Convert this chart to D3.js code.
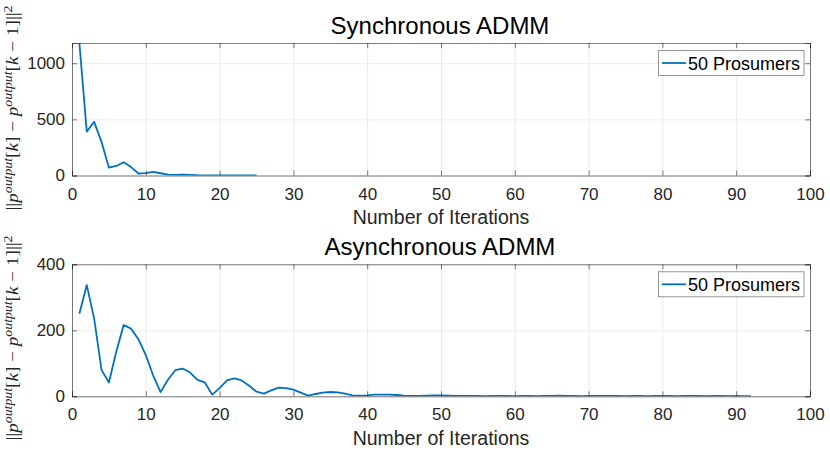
<!DOCTYPE html>
<html>
<head>
<meta charset="utf-8">
<script src="https://cdn.jsdelivr.net/npm/d3@7"></script>
<style>
  body { margin: 0; background: #fff; }
  svg { display: block; }
  text { font-family: "Liberation Sans", Arial, sans-serif; fill: #262626; }
  text.ylab, text.ylab tspan { font-family: "Liberation Serif", "DejaVu Serif", serif; fill: #262626; }
</style>
</head>
<body>
<div id="chart"></div>
<script>
// iterations 1..n for each run
var syncValues = [1180, 390, 478, 300, 70, 85, 118, 75, 18, 22, 32, 20, 7, 5, 8, 6, 3, 2, 2, 1, 1, 1, 1, 1, 1];
var asyncValues = [250, 337, 236, 80, 42, 135, 216, 205, 173, 125, 63, 13, 50, 79, 84, 72, 50, 42, 5, 25,
  48, 54, 48, 32, 14, 8, 18, 26, 25, 20, 11, 2, 7, 11, 13, 12, 8, 3, 2, 3,
  5, 5, 5, 4, 2, 1, 1, 2, 3, 3, 2, 1, 1, 1, 1, 0.5, 1, 1, 1, 0.5,
  1, 1, 0.5, 1, 1, 2, 1, 1, 0.5, 1, 1, 1, 1, 1, 0.5, 1, 1, 0.5, 1, 1,
  1, 0.5, 1, 1, 1, 0.5, 1, 1, 0.5, 1, 0.5, 0.5];
var xTicks = [0, 10, 20, 30, 40, 50, 60, 70, 80, 90, 100];
var syncYTicks = [0, 500, 1000];
var asyncYTicks = [0, 200, 400];
var titles = ["Synchronous ADMM", "Asynchronous ADMM"];
var legendLabel = "50 Prosumers";
var xLabel = "Number of Iterations";

var W = 830, H = 452;
var svg = d3.select("#chart").append("svg")
  .attr("width", W).attr("height", H);

var left = 72, right = 810;
var panels = [
  {values: syncValues, yMax: 1180, yTicks: syncYTicks, top: 43, bottom: 175.5, title: titles[0], labelCy: 108},
  {values: asyncValues, yMax: 400, yTicks: asyncYTicks, top: 264.3, bottom: 396.3, title: titles[1], labelCy: 338}
];

var lineColor = "#0072BD";
var boxColor = "#262626";

panels.forEach(function(p, i) {
  var h = p.bottom - p.top, w = right - left;
  var x = d3.scaleLinear().domain([0, 100]).range([0, w]);
  var y = d3.scaleLinear().domain([0, p.yMax]).range([h, 0]);

  var g = svg.append("g").attr("transform", "translate(" + left + "," + p.top + ")");

  // grid
  var gx = g.append("g").attr("transform", "translate(0," + h + ")")
    .call(d3.axisBottom(x).tickValues(xTicks).tickSize(-h).tickFormat(""));
  var gy = g.append("g")
    .call(d3.axisLeft(y).tickValues(p.yTicks).tickSize(-w).tickFormat(""));
  [gx, gy].forEach(function(a) {
    a.select(".domain").remove();
    a.selectAll("line").attr("stroke", "#ebebeb").attr("stroke-width", 1);
  });

  // line
  g.append("clipPath").attr("id", "clip" + i)
    .append("rect").attr("width", w).attr("height", h);
  var line = d3.line()
    .x(function(d, k) { return x(k + 1); })
    .y(function(d) { return y(d); });
  g.append("path")
    .datum(p.values)
    .attr("clip-path", "url(#clip" + i + ")")
    .attr("d", line)
    .attr("fill", "none")
    .attr("stroke", lineColor)
    .attr("stroke-width", 1.8)
    .attr("stroke-linejoin", "round");

  // axes with inward ticks
  var ab = g.append("g").attr("transform", "translate(0," + h + ")")
    .call(d3.axisBottom(x).tickValues(xTicks).tickSize(-5).tickPadding(12).tickFormat(d3.format("d")));
  var at = g.append("g")
    .call(d3.axisTop(x).tickValues(xTicks).tickSize(-5).tickFormat(""));
  var al = g.append("g")
    .call(d3.axisLeft(y).tickValues(p.yTicks).tickSize(-5).tickPadding(7).tickFormat(d3.format("d")));
  var ar = g.append("g").attr("transform", "translate(" + w + ",0)")
    .call(d3.axisRight(y).tickValues(p.yTicks).tickSize(-5).tickFormat(""));
  [ab, at, al, ar].forEach(function(a) {
    a.select(".domain").attr("stroke", boxColor).attr("stroke-width", 0.8).attr("opacity", 0.75);
    a.selectAll(".tick line").attr("stroke", boxColor).attr("stroke-width", 0.8).attr("opacity", 0.75);
    a.selectAll("text").style("font-size", "17px").attr("fill", boxColor);
  });

  // title and x label
  svg.append("text")
    .attr("x", 440).attr("y", p.top - 9)
    .attr("text-anchor", "middle")
    .style("font-size", "24px")
    .style("fill", "#000")
    .text(p.title);
  svg.append("text")
    .attr("x", 441).attr("y", p.bottom + 48.5)
    .attr("text-anchor", "middle")
    .style("font-size", "19.5px")
    .text(xLabel);

  // legend
  var lg = svg.append("g").attr("transform", "translate(658.5," + (p.top + 7.5) + ")");
  lg.append("rect").attr("width", 145.5).attr("height", 25)
    .attr("fill", "#fff").attr("stroke", "#262626").attr("stroke-opacity", 0.6).attr("stroke-width", 0.8);
  lg.append("line").attr("x1", 3.5).attr("x2", 27.5).attr("y1", 12.5).attr("y2", 12.5)
    .attr("stroke", lineColor).attr("stroke-width", 1.8);
  lg.append("text").attr("x", 29.5).attr("y", 19)
    .style("font-size", "18px").style("fill", "#000").text(legendLabel);

  // y label  ||p^output[k] - p^output[k-1]||^2  (stretched along its length, LaTeX-like width)
  var yl = svg.append("text")
    .attr("class", "ylab")
    .attr("transform", "translate(18," + p.labelCy + ") rotate(-90) scale(1.2,1)")
    .attr("text-anchor", "middle")
    .style("font-size", "16px");
  var parts = [
    ["||", "normal", 0], ["p", "italic", 0], ["output", "italic", 1],
    ["[", "normal", 0], ["k", "italic", 0], ["] \u2212 ", "normal", 0],
    ["p", "italic", 0], ["output", "italic", 1],
    ["[", "normal", 0], ["k", "italic", 0], [" \u2212 1]||", "normal", 0],
    ["2", "normal", 1]
  ];
  var prevSup = 0;
  parts.forEach(function(t) {
    var s = yl.append("tspan").text(t[0]).style("font-style", t[1]);
    if (t[2] === 1) s.style("font-size", "11.5px");
    if (t[2] !== prevSup) s.attr("dy", t[2] === 1 ? -6.5 : 6.5);
    prevSup = t[2];
  });
});
</script>
</body>
</html>
